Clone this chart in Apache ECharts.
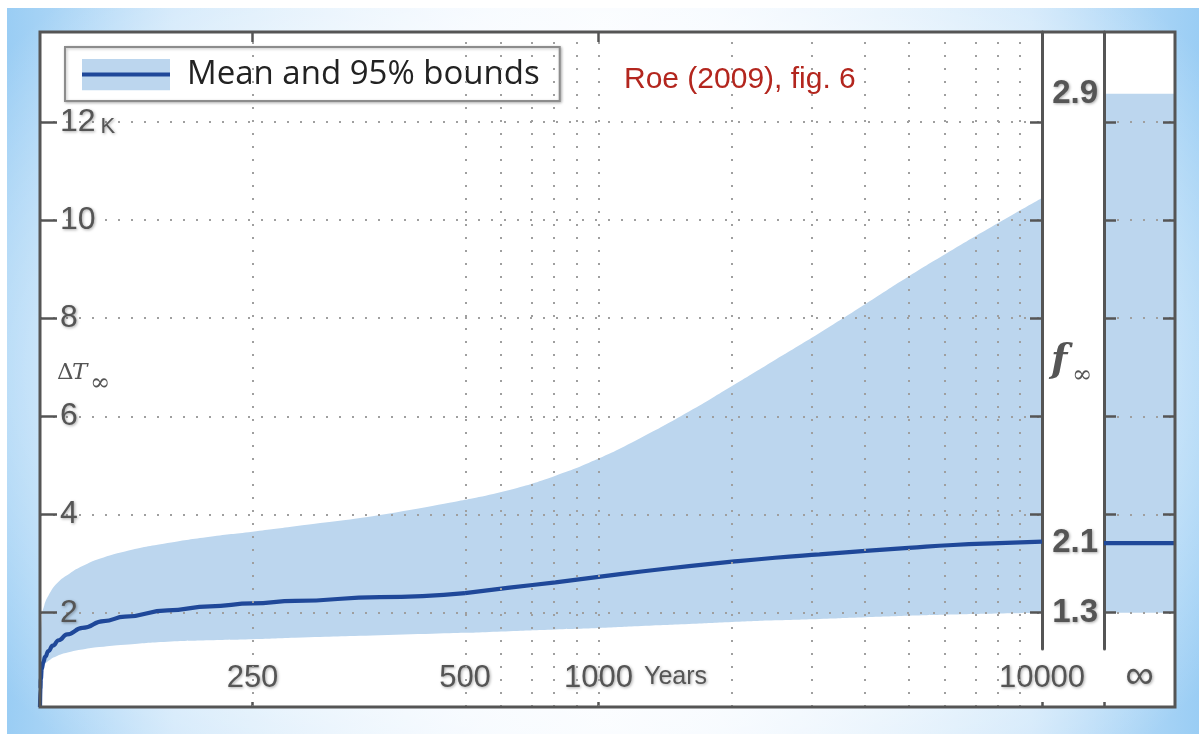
<!DOCTYPE html>
<html>
<head>
<meta charset="utf-8">
<title>Mean and 95% bounds</title>
<script src="https://cdn.jsdelivr.net/npm/echarts@6/dist/echarts.min.js"></script>
<style>
  html, body { margin: 0; padding: 0; background: #fff; }
  #wrap { position: absolute; left: 0; top: 0; width: 1199px; height: 734px; overflow: hidden; background: #fff; }
  #glow {
    position: absolute; left: 7px; top: 8px; width: 1192px; height: 726px;
    background:
      radial-gradient(ellipse 62% 75% at 50% 50%, rgba(255,255,255,0.95) 45%, rgba(255,255,255,0) 100%),
      linear-gradient(90deg, #9acdf4 0%, #cde6fa 14%, #eef6fe 40%, #f4f9fe 50%, #eef6fe 60%, #cde6fa 86%, #9acdf4 100%);
  }
  #chart { position: absolute; left: 0; top: 0; width: 1199px; height: 734px; }
</style>
</head>
<body>
<div id="wrap"><div id="glow"></div><div id="chart"></div></div>
<script>
// ---- data: equilibrium warming (K) against years ----
// linear stretch of the time axis, 0 to 500 years
const meanYearsLin = [0, 0.5, 1, 2, 4, 6, 10, 15, 22, 32, 50, 75, 100, 150, 200, 250, 300, 400, 500];
const meanLin      = [0.08, 0.45, 0.65, 0.85, 1.0, 1.1, 1.22, 1.33, 1.44, 1.56, 1.69, 1.83, 1.92, 2.05, 2.13, 2.19, 2.24, 2.32, 2.4];
const bandYearsLin = [0, 2, 5, 10, 20, 35, 50, 70, 100, 150, 200, 250, 300, 400, 500];
const lowLin       = [0.1, 0.75, 0.92, 1.02, 1.12, 1.2, 1.25, 1.3, 1.35, 1.41, 1.44, 1.46, 1.49, 1.54, 1.59];
const highLin      = [0.9, 1.9, 2.15, 2.35, 2.6, 2.8, 2.95, 3.1, 3.25, 3.42, 3.55, 3.65, 3.76, 3.99, 4.3];
// logarithmic stretch, 500 to 10000 years
const yearsLog = [500, 630, 800, 1000, 1250, 1600, 2000, 2500, 3150, 4000, 5000, 6300, 8000, 10000];
const meanLog  = [2.4, 2.51, 2.62, 2.73, 2.84, 2.95, 3.04, 3.12, 3.19, 3.26, 3.32, 3.38, 3.42, 3.45];
const lowLog   = [1.59, 1.625, 1.66, 1.69, 1.73, 1.77, 1.81, 1.845, 1.875, 1.91, 1.94, 1.965, 1.985, 2.0];
const highLog  = [4.3, 4.5, 4.79, 5.14, 5.57, 6.1, 6.62, 7.15, 7.7, 8.29, 8.85, 9.4, 9.95, 10.45];
// the infinite-time limit: lower bound, mean, upper bound
const infBand   = [2.0, 3.42, 12.57];
const fInfLabel = ['1.3', '2.1', '2.9'];
// ticks and grid lines
const yTicks    = [2, 4, 6, 8, 10, 12];
const linLabels = [250];
const linGrid   = [250];
const logLabels = [500, 1000, 10000];
const logGrid   = [500, 600, 700, 800, 900, 1000, 2000, 3000, 4000, 5000, 6000, 7000, 8000, 9000];
const legendName = 'Mean and 95% bounds';

// ---- layout ----
const FRAME = { left: 40, top: 32, right: 1175, bottom: 707 };
const X500 = 465, X10K = 1042, XINF = 1104, PANEL_BOTTOM = 649;
const Y_MIN = 0.08, Y_MAX = 13.83;

const INK = '#555';
const BAND = '#bcd6ee';
const LINE = '#1f4899';
const DOT = { color: '#9f9f9f', width: 2, type: [2, 11] };
const NUM_FONT = 'Liberation Sans, Arial, sans-serif';
const shadow = { textShadowColor: 'rgba(0,0,0,0.35)', textShadowBlur: 3, textShadowOffsetX: 1, textShadowOffsetY: 1 };

const lg = v => Math.log10(v);
const pairs = (xs, ys, fx) => xs.map((x, i) => [fx ? fx(x) : x, ys[i]]);

const legendIcon = 'image://data:image/svg+xml;charset=utf-8,' + encodeURIComponent(
  "<svg xmlns='http://www.w3.org/2000/svg' width='88' height='32'>" +
  "<rect width='88' height='32' fill='" + BAND + "'/>" +
  "<rect y='14' width='88' height='4' fill='" + LINE + "'/></svg>");

const grids = [
  { left: FRAME.left, top: FRAME.top, width: X500 - FRAME.left, height: FRAME.bottom - FRAME.top },
  { left: X500, top: FRAME.top, width: X10K - X500, height: FRAME.bottom - FRAME.top },
  { left: XINF, top: FRAME.top, width: FRAME.right - XINF, height: FRAME.bottom - FRAME.top },
  { left: X10K, top: FRAME.top, width: XINF - X10K, height: PANEL_BOTTOM - FRAME.top }
];

const numLabel = Object.assign({ color: INK, fontFamily: NUM_FONT, fontSize: 31 }, shadow);
const tickStyle = { color: INK, width: 2.5 };

function yBase(extra) {
  return Object.assign({
    type: 'value', min: Y_MIN, max: Y_MAX, z: 2,
    axisLine: { show: false },
    axisTick: { show: true, inside: true, length: 12, customValues: yTicks, lineStyle: tickStyle },
    axisLabel: { show: false },
    splitLine: { show: false }
  }, extra);
}

const xAxes = [
  { gridIndex: 0, type: 'value', min: 0, max: 500, position: 'bottom', z: 2,
    axisLine: { show: false },
    axisTick: { inside: true, length: 5, customValues: linLabels, lineStyle: tickStyle },
    axisLabel: Object.assign({ inside: true, margin: 13, customValues: linLabels }, numLabel),
    splitLine: { show: false } },
  { gridIndex: 0, type: 'value', min: 0, max: 500, position: 'top', z: 2,
    axisLine: { show: false },
    axisTick: { inside: true, length: 10, customValues: linLabels, lineStyle: tickStyle },
    axisLabel: { show: false }, splitLine: { show: false } },
  { gridIndex: 1, type: 'value', min: lg(500), max: lg(10000), position: 'bottom', z: 2,
    axisLine: { show: false },
    axisTick: { inside: true, length: 5, customValues: [lg(1000), lg(10000)], lineStyle: tickStyle },
    axisLabel: Object.assign({ inside: true, margin: 13, customValues: logLabels.map(lg),
      formatter: v => String(Math.round(Math.pow(10, v))) }, numLabel),
    splitLine: { show: false } },
  { gridIndex: 1, type: 'value', min: lg(500), max: lg(10000), position: 'top', z: 2,
    axisLine: { show: false },
    axisTick: { inside: true, length: 10, customValues: [lg(1000)], lineStyle: tickStyle },
    axisLabel: { show: false }, splitLine: { show: false } },
  { gridIndex: 2, type: 'value', min: 0, max: 1, position: 'bottom', z: 2,
    axisLine: { show: false },
    axisTick: { inside: true, length: 5, customValues: [0], lineStyle: tickStyle },
    axisLabel: Object.assign({ inside: true, margin: 10, customValues: [0.5], formatter: () => '\u221E' },
      numLabel, { fontSize: 40 }),
    splitLine: { show: false } },
  { gridIndex: 3, type: 'value', min: 0, max: 1, show: false }
];

const yAxes = [
  yBase({ gridIndex: 0, position: 'left',
    axisTick: { show: true, inside: true, length: 17, customValues: yTicks, lineStyle: tickStyle },
    axisLabel: { show: true, inside: true, margin: 20, customValues: yTicks,
      formatter: v => v === 12 ? '{n|12}{k|K}' : '{n|' + v + '}',
      rich: {
        n: Object.assign({ color: INK, fontFamily: NUM_FONT, fontSize: 32, verticalAlign: 'bottom' }, shadow),
        k: Object.assign({ color: INK, fontFamily: NUM_FONT, fontSize: 22, verticalAlign: 'bottom', padding: [0, 0, 0, 5] }, shadow)
      } },
    splitLine: { show: true, lineStyle: DOT } }),
  yBase({ gridIndex: 1, position: 'right', splitLine: { show: true, lineStyle: DOT } }),
  yBase({ gridIndex: 2, position: 'left',
    axisLabel: Object.assign({ show: true, margin: 6, customValues: infBand,
      formatter: v => {
        let best = 0;
        infBand.forEach((b, i) => { if (Math.abs(b - v) < Math.abs(infBand[best] - v)) best = i; });
        return fInfLabel[best];
      },
      color: INK, fontFamily: NUM_FONT, fontSize: 33, fontWeight: 'bold' }, shadow),
    splitLine: { show: true, lineStyle: DOT } }),
  yBase({ gridIndex: 2, position: 'right' }),
  { gridIndex: 3, type: 'value', min: 0, max: 1, position: 'left', z: 2,
    axisLine: { show: true, lineStyle: { color: INK, width: 3 } },
    axisTick: { show: false }, axisLabel: { show: false }, splitLine: { show: false } },
  { gridIndex: 3, type: 'value', min: 0, max: 1, position: 'right', z: 2,
    axisLine: { show: true, lineStyle: { color: INK, width: 3 } },
    axisTick: { show: false }, axisLabel: { show: false }, splitLine: { show: false } }
];

// 95% band: the upper bound is filled blue down to the axis, the lower
// bound is filled white over it, leaving the band between the two
function bandSeries(id, xi, yi, xs, lo, hi, fx) {
  const common = { type: 'line', xAxisIndex: xi, yAxisIndex: yi, symbol: 'none',
    smooth: 0.5, silent: true, lineStyle: { opacity: 0 } };
  return [
    Object.assign({ name: id + '-upper', z: 1, data: pairs(xs, hi, fx),
      areaStyle: { color: BAND, opacity: 1, origin: 'start' } }, common),
    Object.assign({ name: id + '-lower', z: 1.5, data: pairs(xs, lo, fx),
      areaStyle: { color: '#fff', opacity: 1, origin: 'start' } }, common)
  ];
}

function meanSeries(xi, yi, data, gridYears, fx, monotone) {
  return {
    name: legendName, type: 'line', xAxisIndex: xi, yAxisIndex: yi, z: 3,
    data: data, symbol: 'none', smooth: 0.5, smoothMonotone: monotone ? 'x' : undefined, silent: true,
    lineStyle: { color: LINE, width: 4.2 }, itemStyle: { color: LINE },
    markLine: gridYears ? {
      silent: true, symbol: 'none', label: { show: false },
      lineStyle: DOT, animation: false,
      data: gridYears.map(v => ({ xAxis: fx ? fx(v) : v }))
    } : undefined
  };
}

const series = [].concat(
  bandSeries('lin', 0, 0, bandYearsLin, lowLin, highLin),
  bandSeries('log', 2, 1, yearsLog, lowLog, highLog, lg),
  bandSeries('inf', 4, 2, [0, 1], [infBand[0], infBand[0]], [infBand[2], infBand[2]]),
  [
    meanSeries(0, 0, pairs(meanYearsLin, meanLin), linGrid, null, true),
    meanSeries(2, 1, pairs(yearsLog, meanLog, lg), logGrid, lg),
    meanSeries(4, 2, [[0, infBand[1]], [1, infBand[1]]])
  ]
);

const chart = echarts.init(document.getElementById('chart'), null, { renderer: 'canvas' });
chart.setOption({
  backgroundColor: 'transparent',
  animation: false,
  title: {
    text: 'Roe (2009), fig. 6', left: 619, top: 60,
    textStyle: { color: '#b3261e', fontFamily: NUM_FONT, fontSize: 30, fontWeight: 'normal' }
  },
  legend: {
    data: [{ name: legendName, icon: legendIcon }],
    left: 65, top: 47, orient: 'horizontal', selectedMode: false,
    itemWidth: 88, itemHeight: 32,
    padding: [11, 20, 10, 17],
    backgroundColor: '#fff', borderColor: '#8c8c8c', borderWidth: 2,
    shadowColor: 'rgba(0,0,0,0.25)', shadowBlur: 3, shadowOffsetX: 1, shadowOffsetY: 1,
    textStyle: { color: '#222', fontFamily: 'Open Sans, sans-serif', fontSize: 33, padding: [0, 0, 0, 12] }
  },
  grid: grids,
  xAxis: xAxes,
  yAxis: yAxes,
  series: series,
  graphic: [
    { type: 'rect', z: -5, silent: true,
      shape: { x: FRAME.left, y: FRAME.top, width: FRAME.right - FRAME.left, height: FRAME.bottom - FRAME.top },
      style: { fill: '#fff' } },
    { type: 'rect', z: 20, silent: true,
      shape: { x: FRAME.left, y: FRAME.top, width: FRAME.right - FRAME.left, height: FRAME.bottom - FRAME.top },
      style: { fill: 'none', stroke: INK, lineWidth: 3 } },
    { type: 'text', z: 20, silent: true, left: 57, top: 362,
      style: { text: '\u0394', fill: INK, font: '23px "DejaVu Serif", serif' } },
    { type: 'text', z: 20, silent: true, left: 72, top: 362,
      style: { text: 'T', fill: INK, font: 'italic 23px "DejaVu Serif", serif' } },
    { type: 'text', z: 20, silent: true, left: 90, top: 372,
      style: { text: '\u221E', fill: INK, font: '24px "DejaVu Serif", serif' } },
    { type: 'text', z: 20, silent: true, left: 1051, top: 342,
      style: { text: 'f', fill: INK, font: 'italic bold 38px "DejaVu Serif", serif' } },
    { type: 'text', z: 20, silent: true, left: 1072, top: 364,
      style: { text: '\u221E', fill: INK, font: '24px "DejaVu Serif", serif' } },
    { type: 'text', z: 20, silent: true, left: 644, top: 665,
      style: { text: 'Years', fill: INK, font: '25px "Liberation Sans", Arial, sans-serif',
        textShadowColor: 'rgba(0,0,0,0.35)', textShadowBlur: 3, textShadowOffsetX: 1, textShadowOffsetY: 1 } }
  ]
});
</script>
</body>
</html>
